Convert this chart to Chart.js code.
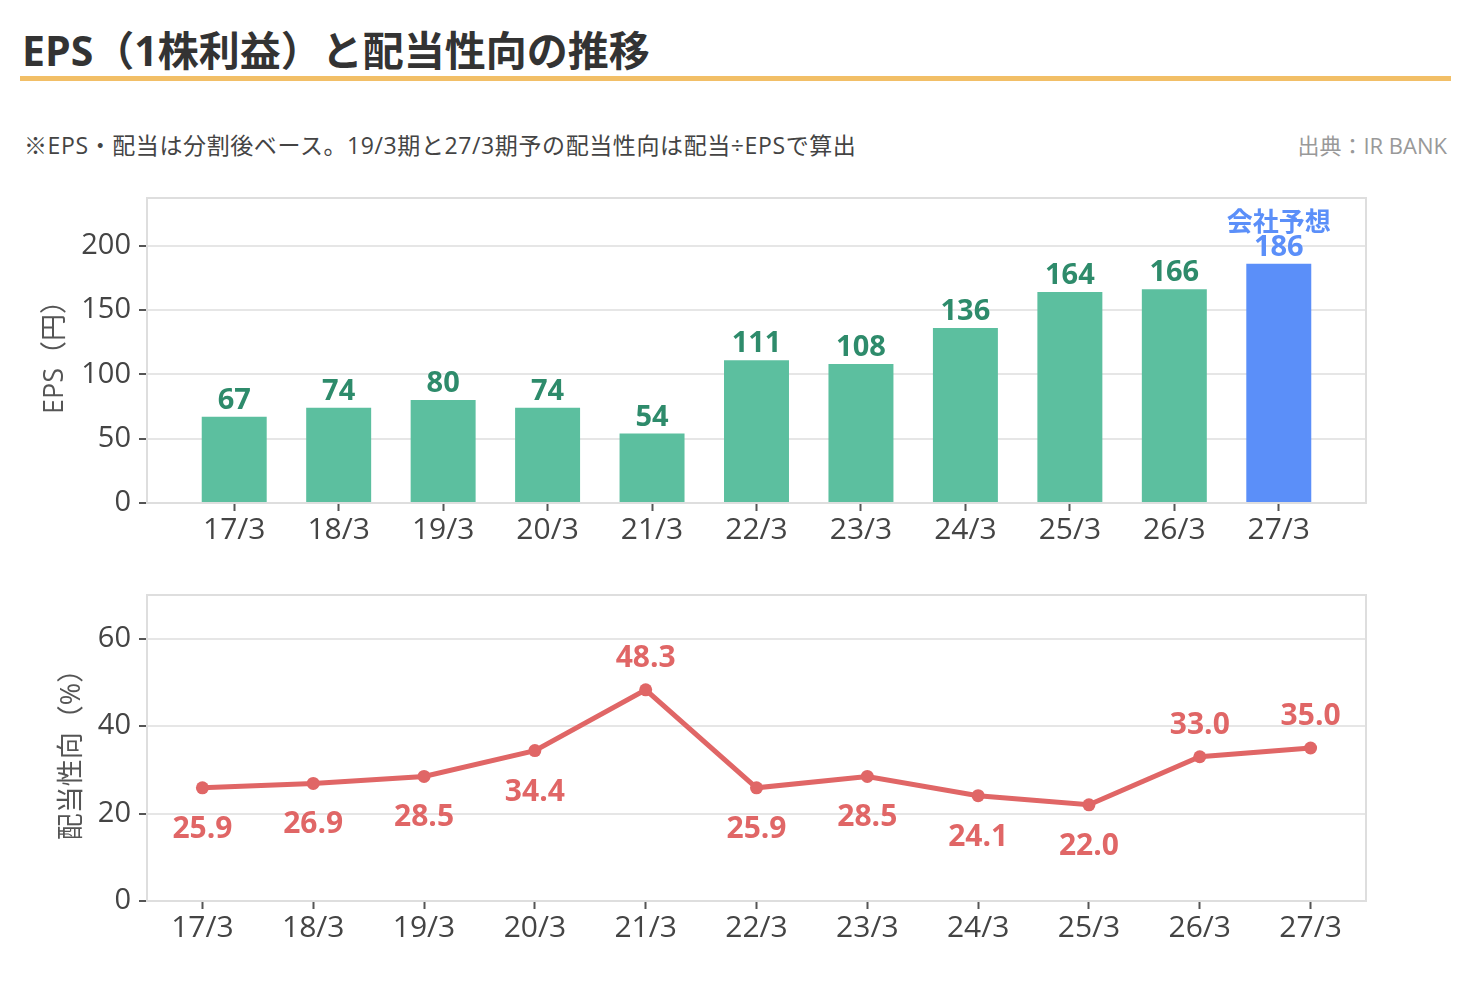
<!DOCTYPE html>
<html><head><meta charset="utf-8">
<script src="https://cdn.jsdelivr.net/npm/chart.js@4.4.1/dist/chart.umd.min.js"></script>
<style>
html,body{margin:0;padding:0;background:#fff;width:1470px;height:990px;overflow:hidden;font-family:"Open Sans","Noto Sans CJK JP","Noto Sans",sans-serif;}
#title{position:absolute;left:22px;top:24px;font-size:41px;line-height:52px;font-weight:700;color:#333;white-space:nowrap;}
#rule{position:absolute;left:20px;top:76px;width:1431px;height:5px;background:#F2BF67;}
#note{position:absolute;left:24px;top:131px;font-size:23px;line-height:27px;letter-spacing:0.6px;color:#444;white-space:nowrap;}
#src{position:absolute;right:23px;top:132px;font-size:22px;line-height:26px;color:#999;white-space:nowrap;}
.cjk{font-family:"Noto Sans CJK JP",sans-serif;}
.box{position:absolute;left:0;width:1470px;height:380px;}
</style></head>
<body>
<div id="title">EPS（1株利益）と配当性向の推移</div>
<div id="rule"></div>
<div id="note"><span class="cjk">※</span>EPS・配当は分割後ベース。19/3期と27/3期予の配当性向は配当÷EPSで算出</div>
<div id="src">出典：IR BANK</div>
<div class="box" style="top:180px"><canvas id="eps" width="1470" height="380"></canvas></div>
<div class="box" style="top:580px"><canvas id="payout" width="1470" height="380"></canvas></div>
<script>
// ---- data ----
const periods = ['17/3','18/3','19/3','20/3','21/3','22/3','23/3','24/3','25/3','26/3','27/3'];
const epsValues = [67, 74, 80, 74, 54, 111, 108, 136, 164, 166, 186];
const payoutValues = [25.9, 26.9, 28.5, 34.4, 48.3, 25.9, 28.5, 24.1, 22.0, 33.0, 35.0];
const epsTicks = [0, 50, 100, 150, 200];
const payoutTicks = [0, 20, 40, 60];
const forecastIndex = 10;
const forecastNote = '会社予想';
const epsAxisTitle = 'EPS（円）';
const payoutAxisTitle = '配当性向（%）';

// ---- styles ----
const FONT = '"Open Sans", "Noto Sans CJK JP", "Noto Sans", sans-serif';
const GREEN = '#5CBF9F', GREEN_TXT = '#2E8B6B', BLUE = '#5B8FF9', RED = '#E06666';
Chart.defaults.font.family = FONT;
Chart.defaults.animation = false;

const frame = {
  id: 'frame',
  afterDraw(chart) {
    const a = chart.chartArea, ctx = chart.ctx;
    ctx.save();
    ctx.strokeStyle = '#dedede'; ctx.lineWidth = 2;
    ctx.strokeRect(a.left, a.top, a.right - a.left, a.bottom - a.top);
    ctx.restore();
  }
};

const barLabels = {
  id: 'barLabels',
  afterDatasetsDraw(chart) {
    const ctx = chart.ctx, meta = chart.getDatasetMeta(0);
    ctx.save();
    ctx.textAlign = 'center'; ctx.textBaseline = 'alphabetic';
    meta.data.forEach((bar, i) => {
      const f = i === forecastIndex;
      ctx.fillStyle = f ? BLUE : GREEN_TXT;
      ctx.font = 'bold 29px ' + FONT;
      ctx.fillText(String(epsValues[i]), bar.x, bar.y - 8);
      if (f) {
        ctx.font = 'bold 26px ' + FONT;
        ctx.fillText(forecastNote, bar.x, bar.y - 33);
      }
    });
    ctx.restore();
  }
};

const lineLabels = {
  id: 'lineLabels',
  afterDatasetsDraw(chart, args, opts) {
    const ctx = chart.ctx, meta = chart.getDatasetMeta(0);
    ctx.save();
    ctx.textAlign = 'center'; ctx.textBaseline = 'alphabetic';
    ctx.font = 'bold 30px ' + FONT;
    ctx.fillStyle = RED;
    meta.data.forEach((pt, i) => {
      const above = opts.above.includes(i);
      ctx.fillText(payoutValues[i].toFixed(1), pt.x, above ? pt.y - 23 : pt.y + 50);
    });
    ctx.restore();
  }
};

const tickColor = '#444';

function yScale(ticks, max, title, titlePad) {
  return {
    type: 'linear', min: 0, max: max,
    afterBuildTicks: s => { s.ticks = ticks.map(v => ({value: v})); },
    afterFit: s => { s.width = 147; s.paddingTop = 0; s.paddingBottom = 0; },
    grid: {color: '#e6e6e6', lineWidth: 2, tickColor: '#555', tickLength: 8, tickWidth: 2},
    border: {display: false},
    ticks: {font: {size: 29}, color: tickColor, padding: 8},
    title: {display: true, text: title, font: {size: 27}, color: '#555', padding: {top: titlePad, bottom: 0}}
  };
}

new Chart(document.getElementById('eps'), {
  type: 'bar',
  data: {
    datasets: [{
      data: epsValues.map((v, i) => ({x: i, y: v})),
      backgroundColor: epsValues.map((v, i) => i === forecastIndex ? BLUE : GREEN),
      barPercentage: 0.622, categoryPercentage: 1.0
    }]
  },
  options: {
    responsive: false,
    layout: {padding: {top: 18, right: 104, left: 0, bottom: 0}},
    plugins: {legend: {display: false}, tooltip: {enabled: false}},
    scales: {
      x: {
        type: 'linear', offset: false, min: -0.835, max: periods.length - 1 + 0.835,
        afterBuildTicks: s => { s.ticks = periods.map((p, i) => ({value: i})); },
        afterFit: s => { s.height = 57; s.paddingLeft = 0; s.paddingRight = 0; },
        grid: {drawOnChartArea: false, offset: false, tickColor: '#555', tickLength: 8, tickWidth: 2},
        border: {display: false},
        ticks: {font: {size: 30}, color: tickColor, padding: 1, maxRotation: 0, autoSkip: false,
                callback: v => periods[v]}
      },
      y: yScale(epsTicks, 237, epsAxisTitle, 39)
    }
  },
  plugins: [frame, barLabels]
});

new Chart(document.getElementById('payout'), {
  type: 'line',
  data: {
    labels: periods,
    datasets: [{
      data: payoutValues,
      borderColor: RED, backgroundColor: RED, borderWidth: 5,
      pointRadius: 6.5, pointBackgroundColor: RED, pointBorderWidth: 0, tension: 0
    }]
  },
  options: {
    responsive: false,
    layout: {padding: {top: 15, right: 104, left: 0, bottom: 0}},
    plugins: {legend: {display: false}, tooltip: {enabled: false},
              lineLabels: {above: [4, 9, 10]}},
    scales: {
      x: {
        type: 'category', offset: true,
        afterFit: s => { s.height = 59; s.paddingLeft = 0; s.paddingRight = 0; },
        grid: {drawOnChartArea: false, offset: false, tickColor: '#555', tickLength: 8, tickWidth: 2},
        border: {display: false},
        ticks: {font: {size: 30}, color: tickColor, padding: 1, maxRotation: 0, autoSkip: false}
      },
      y: yScale(payoutTicks, 70, payoutAxisTitle, 56)
    }
  },
  plugins: [frame, lineLabels]
});
</script>
</body></html>
